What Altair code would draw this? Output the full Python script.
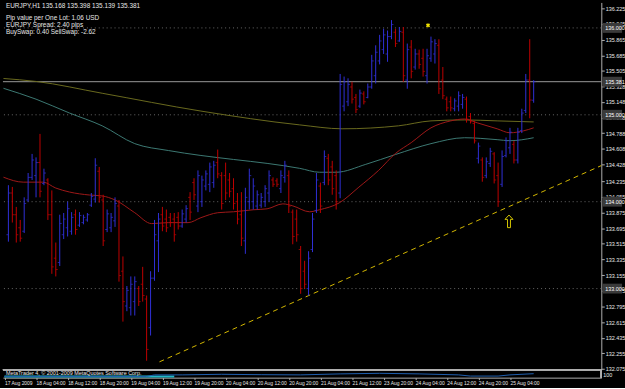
import altair as alt
import pandas as pd

# ---------------- data ----------------
bar_idx = list(range(1, 135))
opens = [133.62,134.10,133.85,133.70,133.66,134.02,134.28,134.30,134.45,134.21,
         134.25,133.85,133.35,133.30,133.62,133.70,133.66,133.85,133.73,133.76,
         133.79,133.96,134.03,134.35,134.02,133.68,133.70,133.78,133.95,133.20,
         132.80,132.78,132.85,133.00,133.05,132.88,132.55,133.12,133.55,133.85,
         133.80,133.82,133.80,133.82,133.72,133.80,134.05,134.22,133.95,134.00,
         134.18,134.20,134.22,134.45,134.30,134.30,134.25,134.15,134.00,133.85,
         133.55,134.00,134.00,133.95,133.96,134.00,134.10,134.25,134.24,134.15,
         134.28,134.30,133.88,133.80,133.45,133.20,133.00,133.45,133.90,134.18,
         134.22,134.50,134.40,134.30,134.10,135.10,135.15,135.32,135.20,135.10,
         135.24,135.20,135.32,135.45,135.62,135.75,135.70,135.90,135.95,135.85,
         135.95,135.40,135.78,135.55,135.70,135.65,135.45,135.65,135.70,135.80,
         135.40,135.18,135.15,135.07,135.10,135.12,135.18,134.98,134.90,134.50,
         134.48,134.30,134.44,134.55,134.30,134.20,134.53,134.62,134.66,134.48,
         134.82,135.05,135.40,135.168]
highs = [134.19,134.17,133.94,133.79,134.05,134.33,134.55,134.51,134.78,134.38,
         134.27,134.13,133.53,133.85,133.87,134.00,133.88,133.91,133.88,133.85,
         133.87,134.10,134.50,134.40,134.08,133.91,133.87,134.05,134.02,133.37,
         133.03,133.14,133.14,133.03,133.25,132.92,133.20,133.79,133.87,133.94,
         133.91,133.87,133.87,133.88,133.91,133.96,134.11,134.27,134.36,134.30,
         134.36,134.45,134.47,134.60,134.34,134.45,134.33,134.27,134.10,134.11,
         134.16,134.38,134.27,134.13,134.10,134.19,134.36,134.28,134.27,134.36,
         134.47,134.36,133.91,133.91,133.49,133.32,133.43,133.87,134.33,134.22,
         134.59,134.55,134.47,134.36,135.47,135.44,135.42,135.38,135.24,135.29,
         135.27,135.36,135.69,135.80,135.92,135.99,135.97,136.09,135.99,136.01,
         136.01,135.82,135.86,135.76,135.75,135.76,135.76,135.90,135.87,135.87,
         135.55,135.21,135.21,135.19,135.27,135.24,135.21,135.02,134.93,134.68,
         134.51,134.51,134.62,134.57,134.45,134.59,134.74,134.85,134.70,134.85,
         135.07,135.47,135.87,135.398]
lows = [133.54,133.76,133.53,133.54,133.64,134.00,134.25,134.05,134.05,134.19,
        133.79,133.17,133.14,133.26,133.57,133.60,133.62,133.62,133.71,133.74,
        133.77,133.94,133.99,133.99,133.49,133.65,133.65,133.71,133.08,132.62,
        132.74,132.69,132.69,132.80,132.85,132.17,132.46,133.09,133.19,133.66,
        133.65,133.71,133.54,133.68,133.70,133.76,133.79,134.02,133.88,133.94,
        134.13,134.11,134.16,134.27,133.91,134.02,134.05,133.91,133.74,133.49,
        133.40,133.91,133.91,133.91,133.93,133.94,134.00,134.17,134.17,134.10,
        134.22,133.87,133.51,133.54,132.94,133.00,132.92,133.42,133.87,133.87,
        134.19,134.19,134.08,133.91,134.04,135.04,135.10,135.13,135.02,135.08,
        135.12,135.19,135.30,135.36,135.58,135.70,135.61,135.87,135.78,135.84,
        135.38,135.30,135.42,135.52,135.53,135.44,135.36,135.61,135.59,135.24,
        135.18,135.04,135.04,135.04,135.04,135.07,134.91,134.90,134.67,134.44,
        134.23,134.27,134.40,134.21,133.94,134.17,134.51,134.55,134.44,134.44,
        134.79,135.02,134.96,135.139]
closes = [134.10,133.85,133.62,133.58,133.98,134.28,134.48,134.45,134.12,134.33,
          133.85,133.25,133.22,133.75,133.80,133.92,133.82,133.68,133.84,133.82,
          133.85,134.06,134.42,134.05,133.55,133.86,133.82,133.98,133.15,132.85,
          132.98,133.05,133.08,132.85,132.92,132.30,133.12,133.62,133.80,133.72,
          133.70,133.76,133.62,133.72,133.86,133.92,133.88,134.08,134.30,134.25,
          134.32,134.40,134.42,134.32,133.98,134.10,134.12,133.98,133.80,133.58,
          134.05,134.30,134.18,134.08,134.05,134.15,134.30,134.20,134.20,134.30,
          134.42,133.95,133.60,133.62,133.00,133.05,133.35,133.80,134.25,133.95,
          134.52,134.25,134.15,134.00,135.35,135.38,135.35,135.18,135.06,135.25,
          135.15,135.32,135.62,135.72,135.85,135.92,135.90,136.04,135.82,135.96,
          135.45,135.75,135.50,135.70,135.58,135.50,135.68,135.84,135.82,135.30,
          135.22,135.08,135.08,135.16,135.22,135.20,134.95,134.92,134.70,134.64,
          134.28,134.46,134.58,134.25,134.00,134.52,134.70,134.80,134.48,134.80,
          135.02,135.40,135.17,135.381]

# moving averages (read at sample bars)
ma_slow_idx = [-0.25, 8, 24.75, 49.75, 74.75, 85.5, 99.75, 108, 116.5, 124.75, 134]
ma_slow_val = [135.418, 135.384, 135.248, 135.043, 134.884, 134.839, 134.873, 134.930, 134.941, 134.930, 134.918]
ma_mid_idx = [-0.25, 8, 16.5, 24.75, 33, 41.5, 49.75, 58, 66.5, 74.75, 79.75, 84, 91.5, 99, 108, 116.5, 124.75, 128, 134]
ma_mid_val = [135.305, 135.180, 135.020, 134.873, 134.668, 134.589, 134.532, 134.486, 134.441, 134.384,
              134.339, 134.339, 134.430, 134.543, 134.668, 134.736, 134.714, 134.702, 134.736]
ma_fast_idx = [-0.25, 4.75, 9.75, 13, 16.5, 21.5, 24.75, 28, 33, 37.25, 41.5, 46.5, 49.75, 54, 58, 63, 66.5,
               70.5, 73, 77.25, 79.75, 84.75, 89.75, 94.75, 99, 103, 108, 113, 116.5, 119.75, 124.75, 128, 131.5, 134]
ma_fast_val = [134.282, 134.225, 134.225, 134.157, 134.111, 134.077, 134.066, 134.020, 133.873, 133.748,
               133.759, 133.759, 133.816, 133.873, 133.884, 133.907, 133.918, 133.975, 133.952, 133.884,
               133.907, 133.986, 134.168, 134.361, 134.555, 134.680, 134.850, 134.930, 134.952, 134.907,
               134.839, 134.793, 134.816, 134.850]

trend_idx = [39.25, 151.25]
trend_val = [132.157, 134.418]

round_levels = [136.0, 135.0, 134.0, 133.0]
bid_price = 135.381

price_labels = [136.225, 136.045, 135.865, 135.685, 135.505, 135.328, 135.148, 134.968, 134.788,
                134.608, 134.428, 134.235, 134.055, 133.875, 133.695, 133.515, 133.335, 133.155,
                132.975, 132.795, 132.615, 132.435, 132.255, 132.075]

time_idx = [0, 8, 16, 24, 32, 40, 48, 56, 64, 72, 80, 88, 96, 104, 112, 120, 128]
time_labels = ["17 Aug 2009", "18 Aug 04:00", "18 Aug 12:00", "18 Aug 20:00", "19 Aug 04:00",
               "19 Aug 12:00", "19 Aug 20:00", "20 Aug 04:00", "20 Aug 12:00", "20 Aug 20:00",
               "21 Aug 04:00", "21 Aug 12:00", "23 Aug 20:00", "24 Aug 04:00", "24 Aug 12:00",
               "24 Aug 20:00", "25 Aug 04:00"]

# sub-window indicator (rough reading)
sub_idx = [0, 36, 38, 45, 55, 65, 75, 85, 95, 105, 115, 118, 125, 128, 134]
sub_ind = [30, 30, 70, 70, 85, 75, 70, 95, 110, 95, 70, 40, 40, 70, 100]
sub_band_idx = [0, 43]
sub_band_val = [30, 30]

header_lines = ["EURJPY,H1  135.168 135.398 135.139 135.381",
                "Pip value per One Lot: 1.06 USD",
                "EURJPY Spread: 2.40 pips",
                "BuySwap: 0.40   SellSwap: -2.62"]

marker_idx, marker_val = [107.25], [136.03]
arrow_idx, arrow_val = [127.75], [133.77]

# ---------------- styling ----------------
W, H_MAIN, H_SUB = 606, 372, 8
UP, DOWN = "#3030d8", "#c00000"
FONT = "Liberation Sans"

df = pd.DataFrame(dict(i=bar_idx, o=opens, h=highs, l=lows, c=closes))
df["dir"] = ["up" if c >= o else "down" for o, c in zip(opens, closes)]

xs = alt.Scale(domain=[-0.375, 151.125], nice=False, zero=False)
ys = alt.Scale(domain=[132.066, 136.293], nice=False, zero=False)
col = alt.Color("dir:N", scale=alt.Scale(domain=["up", "down"], range=[UP, DOWN]), legend=None)

yaxis = alt.Axis(orient="right", values=price_labels, format=".3f", labelColor="#e8e8e8",
                 labelFont=FONT, labelFontSize=5.5, tickColor="#b0b0b0", tickSize=3,
                 domainColor="#b0b0b0", grid=False, labelPadding=1, title=None,
                 labelOverlap=False, labelBaseline="middle", labelFlush=False, zindex=0)

X = alt.X("i:Q", scale=xs, axis=None)
def Y(field):
    return alt.Y(field, scale=ys, axis=yaxis)

levels = alt.Chart(pd.DataFrame(dict(p=round_levels))).mark_rule(
    color="#6a6a6a", strokeDash=[1, 3], strokeWidth=1).encode(y=Y("p:Q"))

bid = alt.Chart(pd.DataFrame(dict(p=[bid_price]))).mark_rule(
    color="#9a9a9a", strokeWidth=1).encode(y=Y("p:Q"))

def ma_layer(idx, val, color):
    return alt.Chart(pd.DataFrame(dict(i=idx, p=val))).mark_line(
        color=color, strokeWidth=1, interpolate="monotone").encode(x=X, y=Y("p:Q"))

ma_slow = ma_layer(ma_slow_idx, ma_slow_val, "#6b6b1e")
ma_mid = ma_layer(ma_mid_idx, ma_mid_val, "#3d7a74")
ma_fast = ma_layer(ma_fast_idx, ma_fast_val, "#a01818")

base = alt.Chart(df)
wick = base.mark_rule(strokeWidth=1).encode(x=X, y=Y("l:Q"), y2="h:Q", color=col)
otick = base.mark_tick(orient="horizontal", size=2, thickness=1, xOffset=-1).encode(
    x=X, y=Y("o:Q"), color=col)
ctick = base.mark_tick(orient="horizontal", size=2, thickness=1, xOffset=1).encode(
    x=X, y=Y("c:Q"), color=col)

trend = alt.Chart(pd.DataFrame(dict(i=trend_idx, p=trend_val))).mark_line(
    color="#d4b800", strokeWidth=1, strokeDash=[5, 4], clip=True).encode(x=X, y=Y("p:Q"))

marker = alt.Chart(pd.DataFrame(dict(i=marker_idx, p=marker_val))).mark_point(
    shape="cross", angle=45, filled=True, color="#f0e000", size=18, opacity=1).encode(
    x=X, y=Y("p:Q"))

arrow = alt.Chart(pd.DataFrame(dict(i=arrow_idx, p=arrow_val))).mark_point(
    shape="M0,-1L0.6,-0.35L0.22,-0.35L0.22,0.9L-0.22,0.9L-0.22,-0.35L-0.6,-0.35Z",
    filled=False, color="#d8c800", strokeWidth=1, size=180, opacity=1).encode(
    x=X, y=Y("p:Q"))

box_shape = "M-1,-0.5L1,-0.5L1,0.5L-1,0.5Z"
boxes = alt.Chart(pd.DataFrame(dict(p=round_levels + [bid_price]))).mark_point(
    shape=box_shape, filled=True, color="#3a3a3a", size=400, opacity=1).encode(
    x=alt.value(W + 11), y=Y("p:Q"))
box_text = alt.Chart(pd.DataFrame(dict(p=round_levels + [bid_price]))).mark_text(
    align="left", baseline="middle", fontSize=5.5, font=FONT, color="#ffffff").encode(
    x=alt.value(W + 4), y=Y("p:Q"), text=alt.Text("p:Q", format=".3f"))

header_layers = []
for txt, yy in zip(header_lines, [4, 16, 23, 30]):
    header_layers.append(
        alt.Chart(pd.DataFrame(dict(t=[txt]))).mark_text(
            align="left", baseline="middle", fontSize=6.5, font=FONT, color="#e8e8e8").encode(
            x=alt.value(3), y=alt.value(yy), text="t:N"))

main = alt.layer(levels, bid, ma_slow, ma_mid, ma_fast, trend, wick, otick, ctick,
                 marker, arrow, boxes, box_text, *header_layers).properties(width=W, height=H_MAIN)

# ---------------- sub window + time axis ----------------
label_expr = "[" + ",".join("'" + s + "'" for s in time_labels) + "][round(datum.value/8)]"
xaxis = alt.Axis(values=time_idx, labelExpr=label_expr, labelAlign="left", labelColor="#e8e8e8",
                 labelFont=FONT, labelFontSize=5, tickColor="#b0b0b0", tickSize=2,
                 domainColor="#b0b0b0", grid=False, labelPadding=1, title=None,
                 labelOverlap=False, labelFlush=False, labelBaseline="top")
SX = alt.X("i:Q", scale=xs, axis=xaxis)

sub_ys = alt.Scale(domain=[0, 200], nice=False, zero=False)
tdf = pd.DataFrame(dict(i=time_idx))
sub_axis = alt.Chart(tdf).mark_tick(opacity=0).encode(x=SX, y=alt.value(4))
sub_top = alt.Chart(tdf).mark_rule(color="#b0b0b0").encode(
    x=alt.value(0), x2=alt.value(W), y=alt.value(0))
sub_right = alt.Chart(tdf).mark_rule(color="#b0b0b0").encode(
    x=alt.value(W), y=alt.value(0), y2=alt.value(H_SUB))
band = alt.Chart(pd.DataFrame(dict(i=sub_band_idx, v=sub_band_val))).mark_line(
    color="#20b8c8", strokeWidth=2).encode(
    x=SX, y=alt.Y("v:Q", scale=sub_ys, axis=None))
ind = alt.Chart(pd.DataFrame(dict(i=sub_idx, v=sub_ind))).mark_line(
    color="#2060b0", strokeWidth=1).encode(
    x=SX, y=alt.Y("v:Q", scale=sub_ys, axis=None))
sub_text = alt.Chart(pd.DataFrame(dict(t=["MetaTrader 4, \u00a9 2001-2009 MetaQuotes Software Corp."]))).mark_text(
    align="left", baseline="middle", fontSize=5.5, font=FONT, color="#e8e8e8").encode(
    x=alt.value(3), y=alt.value(3), text="t:N")
sub_val = alt.Chart(pd.DataFrame(dict(t=["100"]))).mark_text(
    align="left", baseline="middle", fontSize=5.5, font=FONT, color="#e8e8e8").encode(
    x=alt.value(W + 2), y=alt.value(5), text="t:N")

sub = alt.layer(sub_axis, sub_top, sub_right, band, ind, sub_text, sub_val).properties(
    width=W, height=H_SUB)

chart = alt.vconcat(main, sub, spacing=0, bounds="flush").configure(
    background="#000000", padding=0).configure_view(stroke=None).configure_axis(labelOverlap=False)

chart.save("out.html", embed_options={"renderer": "svg", "actions": False})
